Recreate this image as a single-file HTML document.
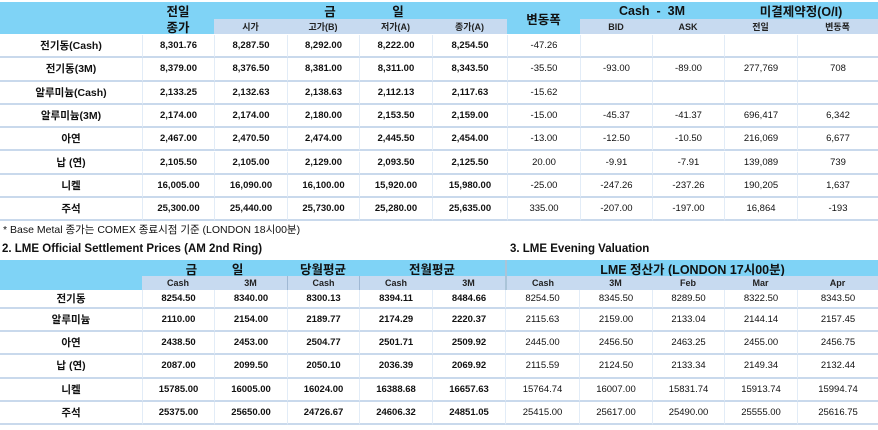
<!DOCTYPE html>
<html><head><meta charset="utf-8">
<style>
body{margin:0;width:878px;height:430px;background:#fff;position:relative;overflow:hidden;font-family:"Liberation Sans","Noto Sans CJK KR",sans-serif;color:#111}
.c{position:absolute;display:flex;align-items:center;justify-content:center;font-size:9.5px;box-sizing:border-box;white-space:nowrap}
.b{font-weight:bold}
.hb{background:#7fd3f6;font-weight:bold}
.hs{background:#c7daf0;font-size:9px;font-weight:bold;color:#222}
.big{font-size:12.5px}
.t{position:absolute;font-size:11.5px;font-weight:bold;white-space:nowrap}
</style></head><body>
<div id="r"></div>
<div class="t" style="left:3px;top:222px;font-size:10.5px;font-weight:normal">* Base Metal 종가는 COMEX 종료시점 기준 (LONDON 18시00분)</div>
<div class="t" style="left:2px;top:243px">2. LME Official Settlement Prices (AM 2nd Ring)</div>
<div class="t" style="left:510px;top:243px">3. LME Evening Valuation</div>
<script>
const R=document.getElementById('r');
function cell(x,y,w,h,txt,cls,st){const d=document.createElement('div');d.className='c '+(cls||'');d.style.cssText=`left:${x}px;top:${y}px;width:${w}px;height:${h}px;`+(st||'');d.innerHTML=txt;R.appendChild(d);}
const X=[0,142,214,287,359,432,507,580,652,724,797,878];
cell(0,2,880,17,'','hb');
cell(142,2,72,17,'전일','hb big');
cell(142,19,72,15,'종가','hb big');
cell(0,19,142,15,'','hb');
cell(300,2,60,17,'금','hb big');
cell(368,2,60,17,'일','hb big');
['시가','고가(B)','저가(A)','종가(A)'].forEach((t,i)=>cell(X[2+i],19,X[3+i]-X[2+i],15,t,'hs'));
cell(507,2,73,32,'변동폭','hb big');
cell(580,2,144,17,'Cash&nbsp; - &nbsp;3M','hb big');
cell(724,2,154,17,'미결제약정(O/I)','hb big');
['BID','ASK','전일','변동폭'].forEach((t,i)=>cell(X[7+i],19,X[8+i]-X[7+i],15,t,'hs'));
const D1=[
['전기동(Cash)','8,301.76','8,287.50','8,292.00','8,222.00','8,254.50','-47.26','','','',''],
['전기동(3M)','8,379.00','8,376.50','8,381.00','8,311.00','8,343.50','-35.50','-93.00','-89.00','277,769','708'],
['알루미늄(Cash)','2,133.25','2,132.63','2,138.63','2,112.13','2,117.63','-15.62','','','',''],
['알루미늄(3M)','2,174.00','2,174.00','2,180.00','2,153.50','2,159.00','-15.00','-45.37','-41.37','696,417','6,342'],
['아연','2,467.00','2,470.50','2,474.00','2,445.50','2,454.00','-13.00','-12.50','-10.50','216,069','6,677'],
['납 (연)','2,105.50','2,105.00','2,129.00','2,093.50','2,125.50','20.00','-9.91','-7.91','139,089','739'],
['니켈','16,005.00','16,090.00','16,100.00','15,920.00','15,980.00','-25.00','-247.26','-237.26','190,205','1,637'],
['주석','25,300.00','25,440.00','25,730.00','25,280.00','25,635.00','335.00','-207.00','-197.00','16,864','-193']];
D1.forEach((r,j)=>{const y=35+j*23.3;
 r.forEach((t,i)=>cell(X[i],y,X[i+1]-X[i],23.3,t,(i<6?'b':''),`border-bottom:2.5px solid #c9d9ec;`+(i==0?'font-size:10.5px;':'')+(i>0?'border-left:1px solid #e2ecf7;':'')));});
const Y=[0,142,214,287,359,432,505,579,652,724,797,878];
cell(0,260,880,16,'','hb');cell(0,276,142,14,'','hb');
cell(142,260,145,16,'금&nbsp;&nbsp;&nbsp;&nbsp;&nbsp;&nbsp;&nbsp;&nbsp;&nbsp;&nbsp;일','hb big');
cell(287,260,72,16,'당월평균','hb big');
cell(359,260,146,16,'전월평균','hb big');
cell(505,260,373,16,'LME 정산가 (LONDON 17시00분)','hb big','border-left:2px solid #aac4d8');
['Cash','3M','Cash','Cash','3M','Cash','3M','Feb','Mar','Apr'].forEach((t,i)=>cell(Y[1+i],276,Y[2+i]-Y[1+i],14,t,'hs',(i==2||i==3?'border-left:1px solid #9fb8d4;':'')+(i==5?'border-left:2px solid #aac4d8;':'')));
const D2=[
['전기동','8254.50','8340.00','8300.13','8394.11','8484.66','8254.50','8345.50','8289.50','8322.50','8343.50'],
['알루미늄','2110.00','2154.00','2189.77','2174.29','2220.37','2115.63','2159.00','2133.04','2144.14','2157.45'],
['아연','2438.50','2453.00','2504.77','2501.71','2509.92','2445.00','2456.50','2463.25','2455.00','2456.75'],
['납 (연)','2087.00','2099.50','2050.10','2036.39','2069.92','2115.59','2124.50','2133.34','2149.34','2132.44'],
['니켈','15785.00','16005.00','16024.00','16388.68','16657.63','15764.74','16007.00','15831.74','15913.74','15994.74'],
['주석','25375.00','25650.00','24726.67','24606.32','24851.05','25415.00','25617.00','25490.00','25555.00','25616.75']];
D2.forEach((r,j)=>{const y=j==0?290:309+(j-1)*23.2;const h=j==0?19:23.2;
 r.forEach((t,i)=>cell(Y[i],y,Y[i+1]-Y[i],h,t,(i<6?'b':''),`border-bottom:2.5px solid #c9d9ec;`+(i==0?'font-size:10.5px;':'')+(i>0?'border-left:1px solid #e2ecf7;':'')));});
</script>
</body></html>
